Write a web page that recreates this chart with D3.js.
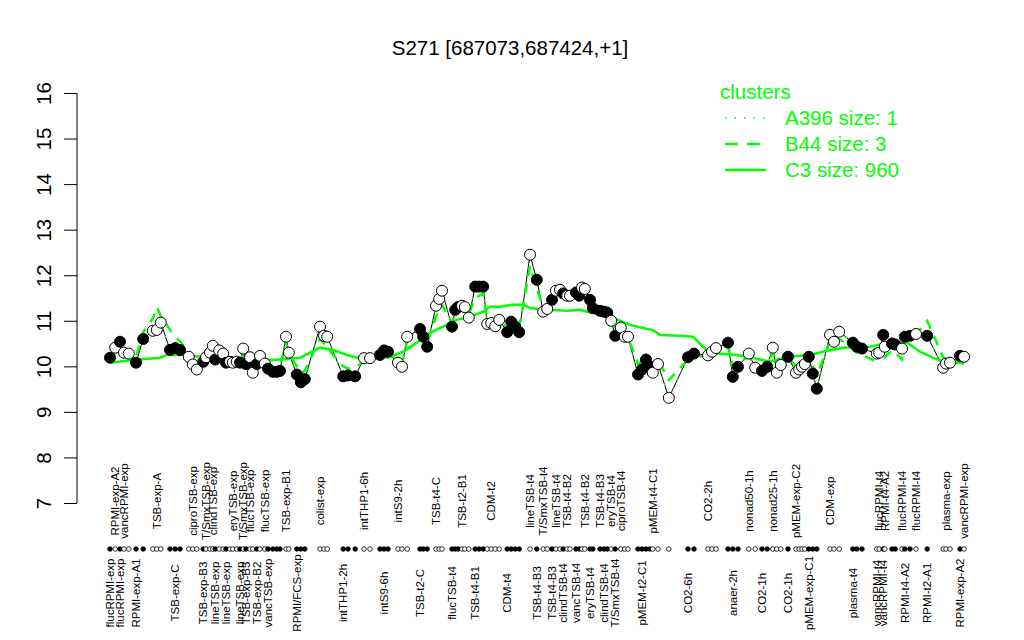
<!DOCTYPE html>
<html><head><meta charset="utf-8">
<script src="https://cdn.jsdelivr.net/npm/d3@7"></script>
<style>body{margin:0;background:#fff}svg{display:block}text{font-family:"Liberation Sans",Arial,Helvetica,sans-serif}</style>
</head><body>
<script>
// ---- data ----
const title = "S271 [687073,687424,+1]";
const yTicks = [7,8,9,10,11,12,13,14,15,16];
// sample order position (with gaps between experiment groups)
const samplePos = [2.5,3.8,5,6,7.2,9,10.8,13.2,14.2,15.2,17.5,18.8,20,22.2,23.2,24.2,25.8,26.5,27.5,28.2,28.8,29.8,30.8,31.5,32.5,33.2,34.2,35,35.8,36.5,37.5,38.2,39.2,40,41.2,42,43.2,44.2,45,46.5,47.2,49.2,50.2,51.2,55,56,56.8,60.8,62,63.8,66,67.5,70,71,72,74.5,75.5,76.8,80,80.8,81.8,84,84.8,85.5,88,88.8,89.5,90.5,91.2,92.2,93.8,94.8,95.8,96.8,97.8,98.8,99.8,101.8,102.8,103.8,104.8,107.5,109.2,110.8,111.8,113,114,115,115.8,116.8,117.5,119,119.8,120.5,121.2,122.5,123.2,125,126,126.8,127.8,128.8,130.2,131.2,132,134.5,135.5,136.5,137.5,138.2,139.5,142.2,147,148.5,152,153,154,157,158.2,159.5,162.2,163.8,165.5,166.8,168.2,169.2,170.2,172,174,174.8,175.5,176.2,177.2,178.2,179.2,182.5,183.5,184.8,188.2,189.2,190.5,194.2,194.8,195.8,196.2,198,198.8,200.5,201.2,202.5,204,206.8,210.8,211.5,212.5,215,216];
const sampleVal = [10.19,10.41,10.54,10.30,10.28,10.08,10.60,10.78,10.80,10.96,10.36,10.40,10.36,10.21,10.04,9.93,10.10,10.20,10.30,10.45,10.15,10.35,10.28,10.08,10.10,10.08,10.10,10.08,10.39,10.05,10.20,9.86,10.05,10.23,10.06,9.95,9.88,9.88,9.90,10.65,10.30,9.82,9.65,9.72,10.87,10.67,10.65,9.78,9.80,9.78,10.18,10.18,10.25,10.35,10.32,10.08,9.99,10.65,10.82,10.65,10.43,11.33,11.48,11.66,10.87,11.24,11.30,11.33,11.30,11.07,11.75,11.75,11.75,10.93,10.95,10.88,11.02,10.75,10.98,10.87,10.75,12.45,11.90,11.20,11.26,11.46,11.66,11.68,11.60,11.55,11.55,11.62,11.55,11.73,11.70,11.46,11.28,11.22,11.20,11.18,11.00,10.67,10.85,10.65,10.65,9.82,9.93,10.15,10.00,9.86,10.05,9.31,10.20,10.28,10.24,10.32,10.40,10.52,9.77,9.99,10.28,9.97,9.90,9.99,10.41,9.86,10.03,10.21,9.86,9.93,9.99,10.05,10.21,9.84,9.51,10.69,10.54,10.76,10.52,10.43,10.39,10.28,10.30,10.69,10.43,10.50,10.48,10.39,10.65,10.67,10.71,10.67,9.97,10.06,10.08,10.23,10.21];
const sampleFilled = [1,0,1,0,0,1,1,0,0,0,1,1,1,0,0,0,1,0,0,0,1,0,0,1,0,0,0,1,0,1,0,0,1,0,0,1,1,1,1,0,0,1,1,1,0,0,0,1,1,1,0,0,1,1,1,0,0,0,1,1,1,0,0,0,1,1,1,0,0,0,1,1,1,0,0,0,0,1,1,1,1,0,1,0,0,1,0,0,1,0,0,1,1,0,0,1,1,1,1,1,0,1,0,0,0,1,1,1,1,0,0,0,1,1,0,0,0,1,1,1,0,0,1,1,0,0,0,1,0,0,0,0,1,1,1,0,0,0,1,1,1,0,0,1,0,1,1,0,1,1,0,1,0,0,0,1,0];
const sampleName = ["flucRPMI-exp","RPMI-exp-A2","flucRPMI-exp","vancRPMI-exp","","RPMI-exp-A1","","","TSB-exp-A","","","TSB-exp-C","","","ciproTSB-exp","","TSB-exp-B3","T/SmxTSB-exp","","clindTSB-exp","lineTSB-exp","","","lineTSB-exp","","eryTSB-exp","","lineTSB-exp","T/SmxTSB-exp","TSB-exp-B3","flucTSB-exp","","TSB-exp-B2","","flucTSB-exp","vancTSB-exp","","","","TSB-exp-B1","","RPMI/FCS-exp","","","colist-exp","","","intTHP1-2h","","","intTHP1-6h","","","intS9-6h","","intS9-2h","","","TSB-t2-C","","","TSB-t4-C","","","flucTSB-t4","","","TSB-t2-B1","","","TSB-t4-B1","","","","CDM-t2","","","CDM-t4","","","","lineTSB-t4","TSB-t4-B3","T/SmxTSB-t4","","TSB-t4-B3","lineTSB-t4","","clindTSB-t4","TSB-t4-B2","","vancTSB-t4","","","TSB-t4-B2","eryTSB-t4","","TSB-t4-B3","clindTSB-t4","","eryTSB-t4","T/SmxTSB-t4","ciproTSB-t4","","","","pMEM-t2-C1","","","pMEM-t4-C1","","","CO2-6h","","CO2-2h","","","","anaer-2h","","nonad50-1h","","CO2-1h","","nonad25-1h","","","CO2-1h","pMEM-exp-C2","","","","pMEM-exp-C1","","","CDM-exp","","","plasma-t4","","","vancRPMI-t4","flucRPMI-t4","vancRPMI-t4","RPMI-t4-A2","","","flucRPMI-t4","RPMI-t4-A2","","flucRPMI-t4","RPMI-t2-A1","","plasma-exp","","RPMI-exp-A2","vancRPMI-exp"];
const labelRow = ["B","T","B","T","","B","","","T","","","B","","","T","","B","T","","T","B","","","B","","T","","B","T","B","T","","B","","T","B","","","","T","","B","","","T","","","B","","","T","","","B","","T","","","B","","","T","","","B","","","T","","","B","","","","T","","","B","","","","T","B","T","","B","T","","B","T","","B","","","T","B","","T","B","","T","B","T","","","","B","","","T","","","B","","T","","","","B","","T","","B","","T","","","B","T","","","","B","","","T","","","B","","","B","T","B","T","","","T","B","","T","B","","T","","B","T"];
// cluster B44 (dashed) profile per sample
const b44Val = [10.15,10.30,10.35,10.25,10.30,10.20,10.75,11.05,11.30,11.10,10.80,10.65,10.55,10.30,10.10,10.05,10.15,10.25,10.30,10.35,10.20,10.30,10.25,10.15,10.15,10.12,10.15,10.12,10.25,10.10,10.18,10.00,10.10,10.20,10.10,10.00,9.95,9.95,10.00,10.50,10.30,10.00,9.85,9.90,10.60,10.50,10.40,10.00,9.95,9.98,10.10,10.20,10.15,10.30,10.28,10.10,10.05,10.55,10.70,10.60,10.50,11.10,11.20,11.35,10.95,11.20,11.25,11.30,11.25,11.15,11.50,11.55,11.60,11.00,11.00,10.95,11.00,10.85,10.95,10.90,10.85,12.20,11.70,11.30,11.35,11.45,11.55,11.60,11.55,11.50,11.52,11.55,11.50,11.60,11.62,11.45,11.30,11.20,11.18,11.15,11.05,10.80,10.85,10.70,10.65,10.05,10.10,10.20,10.10,10.05,10.15,9.70,10.15,10.25,10.20,10.30,10.35,10.45,10.00,10.10,10.20,10.05,10.00,10.05,10.30,10.00,10.10,10.20,10.00,10.05,10.05,10.10,10.20,10.00,9.80,10.55,10.50,10.60,10.40,10.30,10.25,10.10,10.15,10.40,10.20,10.35,10.30,10.15,10.50,10.60,10.70,11.00,10.20,10.15,10.12,10.10,10.05];
// cluster C3 (solid) profile
const c3Pos = [2.5,8.2,15,16.8,21.8,26.8,33.2,43.2,50,55,58.2,61.8,64.2,67.5,71.8,75.8,79.2,82.5,85.8,89.2,92.5,95.8,97.5,100,103.2,105.8,107.5,111.8,116.8,120,122.5,125.8,128.2,132.5,136.8,138.2,140,145,148.2,150.8,152.5,159.2,163.2,167.5,171.8,177.5,181.8,185.8,192.5,196.8,201.8,205,208.2,211.8,216];
const c3Val = [10.08,10.14,10.19,10.25,10.25,10.19,10.19,10.14,10.19,10.41,10.36,10.25,10.19,10.25,10.19,10.32,10.52,10.74,10.87,11.02,11.09,11.2,11.31,11.31,11.35,11.35,11.28,11.24,11.22,11.24,11.18,11.13,11.07,10.91,10.82,10.8,10.69,10.67,10.65,10.43,10.3,10.25,10.19,10.1,10.21,10.25,10.34,10.41,10.43,10.52,10.52,10.32,10.19,10.08,10.08];
const legendTitle = "clusters";
const legendItems = ["A396 size: 1","B44 size: 3","C3 size: 960"];

// ---- drawing ----
const W = 1024, H = 640, green = "#00ff00";
const svg = d3.select("body").append("svg").attr("width", W).attr("height", H);
const x = d3.scaleLinear().domain([0, 220]).range([100, 980]);
const y = d3.scaleLinear().domain([7, 16]).range([503, 93]);

svg.append("text").attr("x", 510).attr("y", 55).attr("text-anchor", "middle")
  .attr("font-size", 20.5).text(title);

// y axis
const yAxis = d3.axisLeft(y).tickValues(yTicks).tickSize(13).tickFormat(d3.format("d"));
const ga = svg.append("g").attr("transform", "translate(77,0)").call(yAxis);
ga.select(".domain").attr("d", `M0,${y(7)}V${y(16)}`).attr("stroke", "#000");
ga.selectAll(".tick line").attr("stroke", "#000");
ga.selectAll(".tick text").attr("font-size", 20.5).attr("fill", "#000")
  .attr("text-anchor", "middle").attr("x", null).attr("dy", null)
  .attr("transform", d => `translate(-26,0) rotate(-90)`).attr("y", 0);

const idx = d3.range(samplePos.length);
const line = d3.line().x(d => x(d[0])).y(d => y(d[1]));

// gene profile thin black line
svg.append("path").attr("fill", "none").attr("stroke", "#000").attr("stroke-width", 1)
  .attr("d", line(idx.map(i => [samplePos[i], sampleVal[i]])));
// C3 solid
svg.append("path").attr("fill", "none").attr("stroke", green).attr("stroke-width", 2.5)
  .attr("d", line(c3Pos.map((p, i) => [p, c3Val[i]])));
// B44 dashed
svg.append("path").attr("fill", "none").attr("stroke", green).attr("stroke-width", 2.5)
  .attr("stroke-dasharray", "10,8")
  .attr("d", line(idx.map(i => [samplePos[i], b44Val[i]])));
// A396 dotted (the gene itself)
svg.append("path").attr("fill", "none").attr("stroke", green).attr("stroke-width", 1.5)
  .attr("stroke-dasharray", "1.5,7")
  .attr("d", line(idx.map(i => [samplePos[i], sampleVal[i]])));

// points
svg.append("g").selectAll("circle").data(idx).join("circle")
  .attr("cx", i => x(samplePos[i])).attr("cy", i => y(sampleVal[i])).attr("r", 5.5)
  .attr("fill", i => sampleFilled[i] ? "#000" : "#fff").attr("stroke", "#000").attr("stroke-width", 1);

// sample markers row
svg.append("g").selectAll("circle").data(idx).join("circle")
  .attr("cx", i => x(samplePos[i])).attr("cy", 549).attr("r", 2.3)
  .attr("fill", i => sampleFilled[i] ? "#000" : "#fff").attr("stroke", "#000").attr("stroke-width", 0.8);

// sample labels
svg.append("g").selectAll("text").data(idx.filter(i => labelRow[i])).join("text")
  .attr("font-size", 11.5).attr("text-anchor", "middle")
  .attr("transform", i => `translate(${x(samplePos[i]) + 4},${labelRow[i] === "T" ? 501 : 593}) rotate(-90)`)
  .text(i => sampleName[i]);

// legend
svg.append("text").attr("x", 720).attr("y", 99).attr("font-size", 20.5).attr("fill", green).text(legendTitle);
const dashes = ["1.5,8", "13,9", null];
const widths = [1.5, 2.5, 2.5];
legendItems.forEach((t, i) => {
  const ly = 118 + i * 26;
  const l = svg.append("line").attr("x1", 725).attr("x2", 766).attr("y1", ly).attr("y2", ly)
    .attr("stroke", green).attr("stroke-width", widths[i]);
  if (dashes[i]) l.attr("stroke-dasharray", dashes[i]);
  svg.append("text").attr("x", 785).attr("y", ly + 7).attr("font-size", 20.5).attr("fill", green).text(t);
});
</script>
</body></html>
